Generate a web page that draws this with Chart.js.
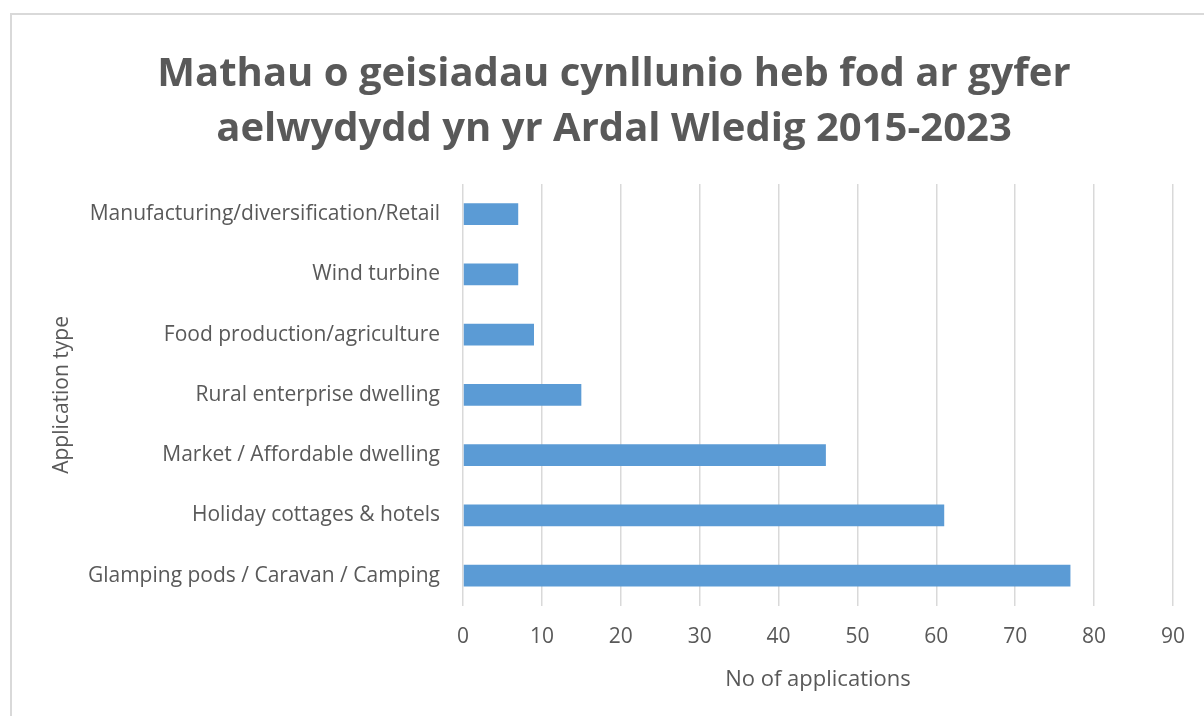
<!DOCTYPE html>
<html lang="cy">
<head>
<meta charset="UTF-8">
<script src="https://cdn.jsdelivr.net/npm/chart.js@4.4.1/dist/chart.umd.min.js"></script>
<title>Mathau o geisiadau</title>
<style>
* { margin: 0; padding: 0; box-sizing: border-box; }
body { width: 1204px; height: 716px; overflow: hidden; background: #fff; position: relative; }
.frame { position: absolute; left: 10px; top: 13px; width: 1300px; height: 800px; border: 2px solid #d9d9d9; }
#chart { position: absolute; left: 0; top: 0; }
</style>
</head>
<body>
<div class="frame"></div>
<canvas id="chart" width="1204" height="716"></canvas>
<script>
const categories = [
  "Manufacturing/diversification/Retail",
  "Wind turbine",
  "Food production/agriculture",
  "Rural enterprise dwelling",
  "Market / Affordable dwelling",
  "Holiday cottages & hotels",
  "Glamping pods / Caravan / Camping"
];
const applications = [7, 7, 9, 15, 46, 61, 77];
const titleLines = [
  "Mathau o geisiadau cynllunio heb fod ar gyfer",
  "aelwydydd yn yr Ardal Wledig 2015-2023"
];

const grey = "#595959";
const fontFamily = "'Open Sans', sans-serif";

new Chart(document.getElementById("chart"), {
  type: "bar",
  data: {
    labels: categories,
    datasets: [{
      label: "No of applications",
      data: applications,
      backgroundColor: "#5b9bd5",
      barPercentage: 0.6,
      categoryPercentage: 0.6
    }]
  },
  options: {
    indexAxis: "y",
    responsive: false,
    animation: false,
    layout: { padding: { left: 55, right: 31, top: 0, bottom: 25 } },
    plugins: {
      legend: { display: false },
      tooltip: { enabled: false },
      title: {
        display: true,
        text: titleLines,
        color: grey,
        font: { family: fontFamily, size: 40, weight: "bold", lineHeight: 1.375 },
        padding: { top: 47, bottom: 27 }
      }
    },
    scales: {
      x: {
        min: 0,
        max: 90,
        ticks: { stepSize: 10, color: grey, padding: 19, font: { family: fontFamily, size: 21 } },
        grid: { color: "#d9d9d9", lineWidth: 1.5, drawTicks: false },
        border: { display: false },
        title: {
          display: true,
          text: "No of applications",
          color: grey,
          font: { family: fontFamily, size: 22, lineHeight: 1 },
          padding: { top: 0, bottom: 0 }
        }
      },
      y: {
        grid: { display: false, drawTicks: false },
        border: { display: false },
        ticks: { color: grey, padding: 23, font: { family: fontFamily, size: 21 } },
        title: {
          display: true,
          text: "Application type",
          color: grey,
          font: { family: fontFamily, size: 21, lineHeight: 0.6 },
          padding: { top: 1, bottom: 0 }
        },
        afterFit(scale) { scale.width = 408; }
      }
    }
  }
});
</script>
</body>
</html>
